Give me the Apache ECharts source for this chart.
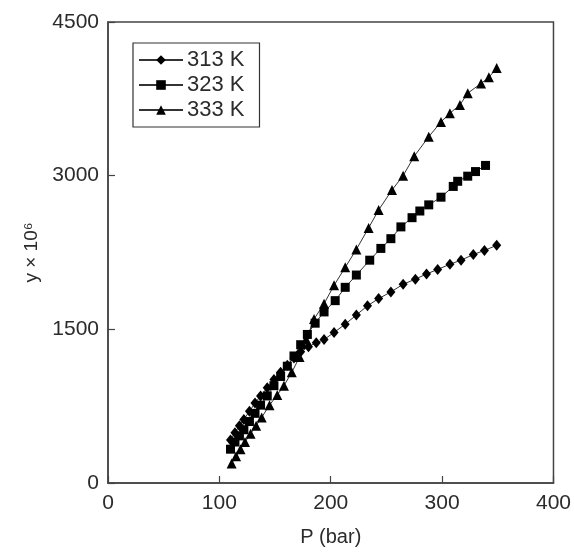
<!DOCTYPE html>
<html>
<head>
<meta charset="utf-8">
<script src="https://cdn.jsdelivr.net/npm/echarts@6/dist/echarts.min.js"></script>
<style>
  html, body { margin: 0; padding: 0; background: #fff; }
  #chart { width: 574px; height: 552px; }
</style>
</head>
<body>
<div id="chart"></div>
<script>
// Solubility (mole fraction × 10^6) versus pressure at three temperatures
const p313 = [110, 114, 118, 122, 127, 132, 137, 143, 149, 155, 161, 167, 173, 180, 187, 194, 203, 213, 223, 233, 243, 254, 265, 276, 286, 296, 307, 317, 328, 338, 349];
const y313 = [420, 490, 560, 620, 700, 780, 850, 930, 1010, 1080, 1150, 1220, 1280, 1330, 1370, 1400, 1470, 1550, 1640, 1730, 1800, 1865, 1940, 1990, 2040, 2085, 2135, 2175, 2230, 2270, 2320];

const p323 = [110, 114, 118, 122, 127, 132, 137, 143, 149, 155, 161, 167, 173, 179, 186, 194, 204, 213, 223, 235, 245, 254, 263, 273, 280, 288, 299, 310, 314, 323, 330, 339];
const y323 = [330, 400, 460, 520, 600, 680, 760, 850, 950, 1040, 1140, 1240, 1350, 1450, 1560, 1670, 1780, 1910, 2030, 2175, 2290, 2385, 2500, 2590, 2655, 2715, 2790, 2895, 2945, 2995, 3040, 3100];

const p333 = [111, 115, 119, 123, 128, 133, 138, 145, 152, 158, 165, 172, 178, 185, 194, 203, 213, 223, 234, 243, 255, 265, 275, 288, 299, 307, 316, 323, 335, 342, 349];
const y333 = [190, 260, 330, 400, 480, 560, 640, 760, 860, 950, 1080, 1230, 1400, 1600, 1750, 1930, 2105, 2280, 2490, 2665, 2860, 3000, 3190, 3380, 3525, 3610, 3690, 3805, 3900, 3960, 4050];

const seriesNames = ['313 K', '323 K', '333 K'];
const xTicks = { min: 0, max: 400, interval: 100 };
const yTicks = { min: 0, max: 4500, interval: 1500 };

const pairs = (xs, ys) => xs.map((x, i) => [x, ys[i]]);

const FONT = '"Liberation Sans", Arial, sans-serif';
const TEXT = '#2b2b2b';
const plain = v => String(v);

function lineSeries(name, data, symbol, size) {
  return {
    name: name,
    type: 'line',
    data: data,
    symbol: symbol,
    symbolSize: size,
    showAllSymbol: true,
    lineStyle: { color: '#333', width: 1 },
    itemStyle: { color: '#000' },
    emphasis: { disabled: true },
    animation: false
  };
}

const chart = echarts.init(document.getElementById('chart'), null, { renderer: 'canvas' });
chart.setOption({
  backgroundColor: '#fff',
  animation: false,
  grid: {
    left: 108, right: 18, top: 22, bottom: 64,
    show: true, borderColor: '#444', borderWidth: 1.5, backgroundColor: 'transparent'
  },
  legend: {
    orient: 'vertical',
    left: 133, top: 43,
    data: seriesNames,
    itemWidth: 44, itemHeight: 12, itemGap: 3,
    padding: [6, 15, 6, 5],
    borderColor: '#333', borderWidth: 1.2,
    textStyle: { fontFamily: FONT, fontSize: 22, color: TEXT, padding: [0, 0, 0, -1] },
    selectedMode: false
  },
  xAxis: {
    type: 'value',
    min: xTicks.min, max: xTicks.max, interval: xTicks.interval,
    name: 'P (bar)', nameLocation: 'middle', nameGap: 44,
    nameTextStyle: { fontFamily: FONT, fontSize: 20, color: TEXT },
    axisLine: { show: true, lineStyle: { color: '#444', width: 1.5 } },
    axisTick: { inside: true, length: 7, lineStyle: { color: '#444', width: 1.2 } },
    axisLabel: { fontFamily: FONT, fontSize: 21, color: TEXT, margin: 10, formatter: plain },
    splitLine: { show: false }
  },
  yAxis: {
    type: 'value',
    min: yTicks.min, max: yTicks.max, interval: yTicks.interval,
    name: 'y × 10\u2076', nameLocation: 'middle', nameGap: 66,
    nameTextStyle: { fontFamily: FONT, fontSize: 19, color: TEXT },
    axisLine: { show: true, lineStyle: { color: '#444', width: 1.5 } },
    axisTick: { inside: true, length: 7, lineStyle: { color: '#444', width: 1.2 } },
    axisLabel: { fontFamily: FONT, fontSize: 21, color: TEXT, margin: 9, formatter: plain },
    splitLine: { show: false }
  },
  series: [
    lineSeries(seriesNames[0], pairs(p313, y313), 'diamond', [9, 11]),
    lineSeries(seriesNames[1], pairs(p323, y323), 'rect', 9),
    lineSeries(seriesNames[2], pairs(p333, y333), 'triangle', 10)
  ]
});
</script>
</body>
</html>
